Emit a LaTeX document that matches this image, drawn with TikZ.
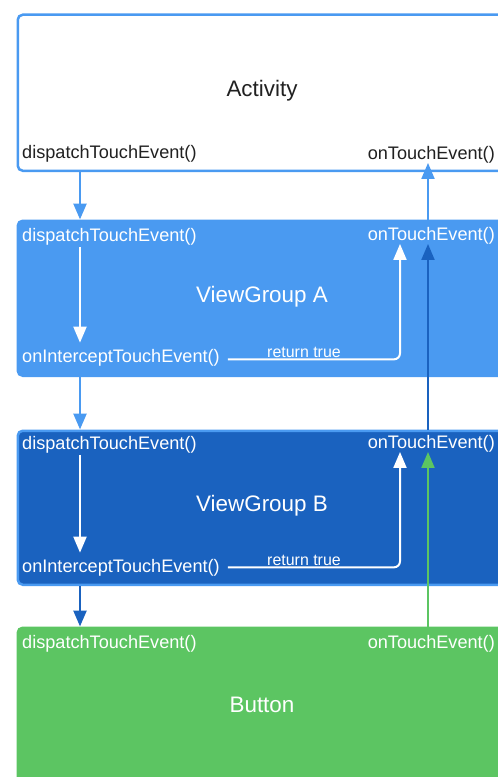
\documentclass[tikz,border=0pt]{standalone}
\usepackage{fontspec}
\setmainfont{Liberation Sans}
\usetikzlibrary{arrows.meta}

\definecolor{lightblue}{HTML}{4A9AF1}
\definecolor{darkblue}{HTML}{1A62BF}
\definecolor{btngreen}{HTML}{5CC562}
\definecolor{textgray}{HTML}{212121}

\tikzset{
  layer/.style={draw=lightblue, line width=2.5bp, rounded corners=5bp, minimum width=520bp, anchor=north west, inner sep=0pt},
  title/.style={font=\fontsize{22.5}{26}\selectfont, inner sep=0pt},
  call/.style={font=\fontsize{18.2}{21}\selectfont, inner sep=0pt},
  ret/.style={font=\fontsize{16}{18}\selectfont, inner sep=2bp, anchor=base},
  flow/.style={line width=2.5bp, -{Triangle[width=13bp,length=16bp]}},
  upflow/.style={line width=2bp, -{Triangle[width=13bp,length=16bp]}},
  inner/.style={line width=2bp, white, -{Triangle[width=13bp,length=16bp]}},
}

\begin{document}
\begin{tikzpicture}[x=1bp, y=-1bp]
\useasboundingbox (0,0) rectangle (498,777);
\clip (0,0) rectangle (498,777);
\coordinate (down) at (80,0);
\coordinate (up) at (428,0);
\coordinate (back) at (400,0);

\node[layer, fill=white, minimum height=156bp] (act) at (16.5,13.5) {};
\node[layer, fill=lightblue, minimum height=155bp] (vga) at (16.5,219.5) {};
\node[layer, fill=darkblue, minimum height=154bp] (vgb) at (16.5,429.5) {};
\node[layer, draw=btngreen, fill=btngreen, minimum height=200bp] (btn) at (16.5,626.5) {};

% Activity
\node[title, text=textgray] (act-title) at (262,91) {Activity};
\node[call, anchor=base west, text=textgray] (act-dispatch) at (22,158) {dispatchTouchEvent()};
\node[call, anchor=base east, text=textgray] (act-touch) at (495,159) {onTouchEvent()};

% ViewGroup A
\node[title, text=white] (vga-title) at (262,297) {ViewGroup A};
\node[call, anchor=base west, text=white] (vga-dispatch) at (22,241) {dispatchTouchEvent()};
\node[call, anchor=base east, text=white] (vga-touch) at (495,240) {onTouchEvent()};
\node[call, anchor=base west, text=white] (vga-intercept) at (22,362) {onInterceptTouchEvent()};
\node[ret, text=white] (vga-return) at (304,357) {return true};

% ViewGroup B
\node[title, text=white] (vgb-title) at (262,506) {ViewGroup B};
\node[call, anchor=base west, text=white] (vgb-dispatch) at (22,449) {dispatchTouchEvent()};
\node[call, anchor=base east, text=white] (vgb-touch) at (495,448) {onTouchEvent()};
\node[call, anchor=base west, text=white] (vgb-intercept) at (22,572) {onInterceptTouchEvent()};
\node[ret, text=white] (vgb-return) at (304,565) {return true};

% Button
\node[title, text=white] (btn-title) at (262,705) {Button};
\node[call, anchor=base west, text=white] (btn-dispatch) at (22,648) {dispatchTouchEvent()};
\node[call, anchor=base east, text=white] (btn-touch) at (495,648) {onTouchEvent()};

% going down
\draw[flow, lightblue] (act.south -| down) -- (vga.north -| down);
\draw[inner, shorten <=2bp, shorten >=6bp] (vga-dispatch.south -| down) -- (vga-intercept.north -| down);
\draw[flow, lightblue] (vga.south -| down) -- (vgb.north -| down);
\draw[inner, shorten <=2bp, shorten >=6bp] (vgb-dispatch.south -| down) -- (vgb-intercept.north -| down);
\draw[flow, darkblue] (vgb.south -| down) -- (btn.north -| down);

% going up
\draw[inner, rounded corners=6bp] ([xshift=8bp]vga-intercept.east |- vga-return.south) -- (vga-return.south -| back) -- (vga-touch.south -| back);
\draw[inner, rounded corners=6bp] ([xshift=8bp]vgb-intercept.east |- vgb-return.south) -- (vgb-return.south -| back) -- (vgb-touch.south -| back);
\draw[upflow, lightblue] (vga.north -| up) -- (act-touch.south -| up);
\draw[upflow, darkblue] (vgb.north -| up) -- (vga-touch.south -| up);
\draw[upflow, btngreen] (btn.north -| up) -- (vgb-touch.south -| up);
\end{tikzpicture}
\end{document}
